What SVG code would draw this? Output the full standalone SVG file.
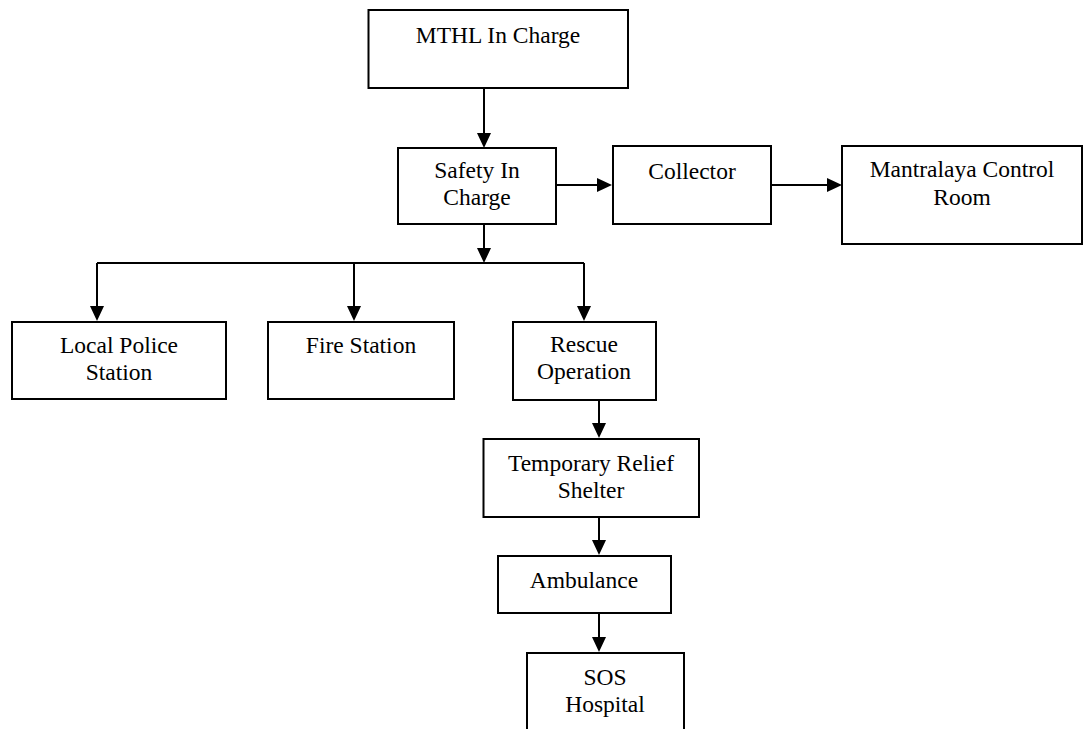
<svg xmlns="http://www.w3.org/2000/svg" width="1083" height="729" viewBox="0 0 1083 729">
<style>
.box{fill:#fff;stroke:#000;stroke-width:2}
.t{font-family:"Liberation Serif","Times New Roman",serif;font-size:23.5px;fill:#000;text-anchor:middle}
.c{fill:none;stroke:#000;stroke-width:2}
</style>
<defs>
<marker id="ah" viewBox="0 0 15 14" refX="7" refY="7" markerWidth="15" markerHeight="14" markerUnits="userSpaceOnUse" orient="auto">
<path d="M0,0 L15,7 L0,14 Z" fill="#000"/>
</marker>
</defs>
<rect width="1083" height="729" fill="#fff"/>
<g id="connectors">
<path class="c" d="M484,88 V140" marker-end="url(#ah)"/>
<path class="c" d="M556,185 H604" marker-end="url(#ah)"/>
<path class="c" d="M771,185 H834" marker-end="url(#ah)"/>
<path class="c" d="M484,224 V255" marker-end="url(#ah)"/>
<path class="c" d="M97,263 H584"/>
<path class="c" d="M97,263 V313" marker-end="url(#ah)"/>
<path class="c" d="M354,263 V313" marker-end="url(#ah)"/>
<path class="c" d="M584,263 V313" marker-end="url(#ah)"/>
<path class="c" d="M599,400 V430" marker-end="url(#ah)"/>
<path class="c" d="M599,517 V547" marker-end="url(#ah)"/>
<path class="c" d="M599,613 V644" marker-end="url(#ah)"/>
</g>
<g id="mthl"><rect class="box" x="368.5" y="10" width="259.5" height="78"/><text class="t" x="498" y="43">MTHL In Charge</text></g>
<g id="safety"><rect class="box" x="398" y="148" width="158" height="76"/><text class="t" x="477" y="178">Safety In</text><text class="t" x="477" y="205">Charge</text></g>
<g id="collector"><rect class="box" x="613" y="146" width="158" height="78"/><text class="t" x="692" y="179">Collector</text></g>
<g id="mantralaya"><rect class="box" x="842" y="146" width="240" height="98"/><text class="t" x="962" y="177">Mantralaya Control</text><text class="t" x="962" y="205">Room</text></g>
<g id="police"><rect class="box" x="12" y="322" width="214" height="77"/><text class="t" x="119" y="353">Local Police</text><text class="t" x="119" y="380">Station</text></g>
<g id="fire"><rect class="box" x="268" y="322" width="186" height="77"/><text class="t" x="361" y="353">Fire Station</text></g>
<g id="rescue"><rect class="box" x="513" y="322" width="143" height="78"/><text class="t" x="584" y="352">Rescue</text><text class="t" x="584" y="379">Operation</text></g>
<g id="shelter"><rect class="box" x="483.5" y="439" width="215.5" height="78"/><text class="t" x="591" y="471">Temporary Relief</text><text class="t" x="591" y="498">Shelter</text></g>
<g id="ambulance"><rect class="box" x="498" y="556" width="173" height="57"/><text class="t" x="584" y="588">Ambulance</text></g>
<g id="sos"><rect class="box" x="527" y="653" width="157" height="90"/><text class="t" x="605" y="685">SOS</text><text class="t" x="605" y="712">Hospital</text></g>
</svg>
